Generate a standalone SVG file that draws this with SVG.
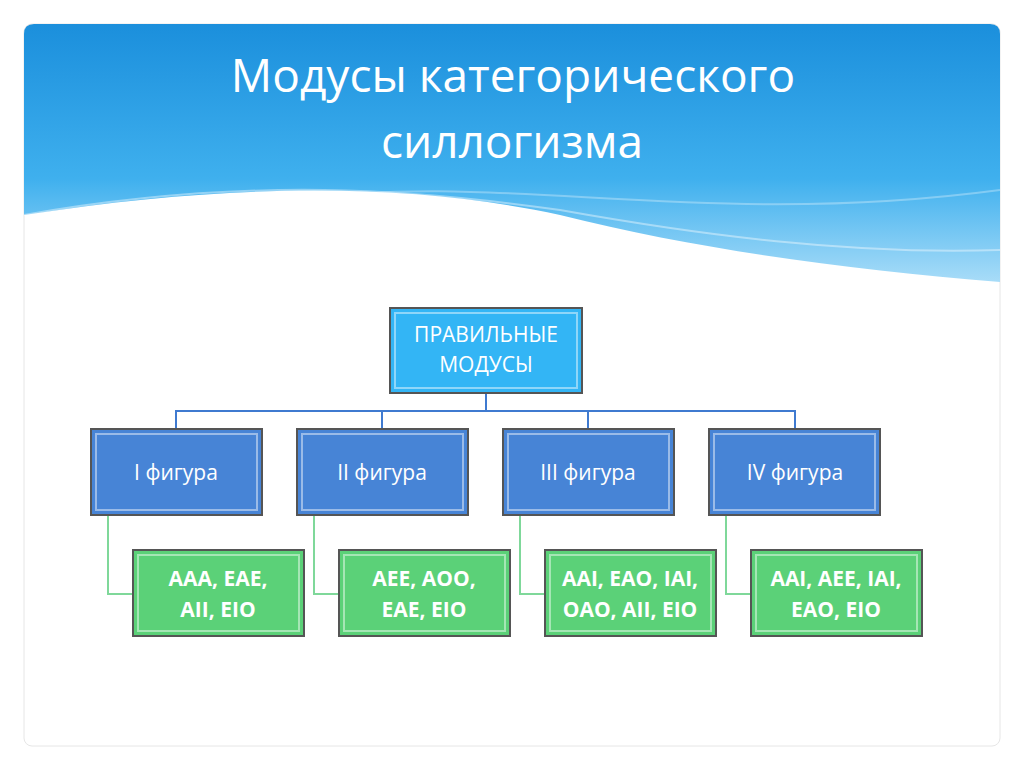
<svg xmlns="http://www.w3.org/2000/svg" width="1024" height="767" viewBox="0 0 1024 767">
<defs>
<linearGradient id="sky" x1="0" y1="0" x2="0" y2="1"><stop offset="0" stop-color="#1b8fdc"/><stop offset="0.6" stop-color="#3fb0ee"/><stop offset="1" stop-color="#a8dcf8"/></linearGradient>
<style>
.t{font-family:"Open Sans","Liberation Sans",sans-serif;fill:#fff;text-anchor:middle}
.blue{fill:#4784d6;stroke:#555;stroke-width:2}
.green{fill:#5bd178;stroke:#555;stroke-width:2}
.top{fill:#33b5f5;stroke:#555;stroke-width:2}
.in{fill:none;stroke:#fff;stroke-opacity:0.45;stroke-width:2}
.c{fill:none;stroke-width:2}
</style>
</defs>
<rect width="1024" height="767" fill="#fff"/>
<rect x="24" y="24" width="976" height="722" rx="8" fill="#fff" stroke="#e6e6e6"/>
<path d="M24 34 Q24 24 34 24 H990 Q1000 24 1000 34 V282 C850 270 700 250 560 215 C420 185 250 180 24 215 Z" fill="url(#sky)"/>
<path d="M24 215 C250 175 420 190 560 210 C700 235 850 255 1000 250" fill="none" stroke="#fff" stroke-opacity="0.4" stroke-width="2"/>
<path d="M300 200 C500 170 700 230 1000 190" fill="none" stroke="#fff" stroke-opacity="0.3" stroke-width="2"/>
<text class="t" x="513" y="92" font-size="46">Модусы категорического</text>
<text class="t" x="512" y="158" font-size="46">силлогизма</text>
<g id="connectors">
<path class="c" stroke="#3f7ad0" d="M486 393 V411 M176 429 V411 H795 V429 M382 411 V429 M588 411 V429"/>
<path class="c" stroke="#7fd89a" d="M108 515 V594 H133 M314 515 V594 H339 M520 515 V594 H545 M726 515 V594 H751"/>
</g>
<g id="root"><rect class="top" x="390" y="308" width="192" height="85"/><rect class="in" x="395" y="313" width="182" height="75"/>
<text class="t" x="486" y="342" font-size="21">ПРАВИЛЬНЫЕ</text><text class="t" x="486" y="372" font-size="21">МОДУСЫ</text></g>
<g id="f1"><rect class="blue" x="91" y="429" width="171" height="86"/><rect class="in" x="96" y="434" width="161" height="76"/><text class="t" x="176" y="480" font-size="21">I фигура</text></g>
<g id="f2"><rect class="blue" x="297" y="429" width="171" height="86"/><rect class="in" x="302" y="434" width="161" height="76"/><text class="t" x="382" y="480" font-size="21">II фигура</text></g>
<g id="f3"><rect class="blue" x="503" y="429" width="171" height="86"/><rect class="in" x="508" y="434" width="161" height="76"/><text class="t" x="588" y="480" font-size="21">III фигура</text></g>
<g id="f4"><rect class="blue" x="709" y="429" width="171" height="86"/><rect class="in" x="714" y="434" width="161" height="76"/><text class="t" x="795" y="480" font-size="21">IV фигура</text></g>
<g id="m1"><rect class="green" x="133" y="550" width="171" height="86"/><rect class="in" x="138" y="555" width="161" height="76"/><text class="t" x="218" y="586" font-size="21" font-weight="bold">AAA, EAE,</text><text class="t" x="218" y="617" font-size="21" font-weight="bold">AII, EIO</text></g>
<g id="m2"><rect class="green" x="339" y="550" width="171" height="86"/><rect class="in" x="344" y="555" width="161" height="76"/><text class="t" x="424" y="586" font-size="21" font-weight="bold">AEE, AOO,</text><text class="t" x="424" y="617" font-size="21" font-weight="bold">EAE, EIO</text></g>
<g id="m3"><rect class="green" x="545" y="550" width="171" height="86"/><rect class="in" x="550" y="555" width="161" height="76"/><text class="t" x="630" y="586" font-size="21" font-weight="bold">AAI, EAO, IAI,</text><text class="t" x="630" y="617" font-size="21" font-weight="bold">OAO, AII, EIO</text></g>
<g id="m4"><rect class="green" x="751" y="550" width="171" height="86"/><rect class="in" x="756" y="555" width="161" height="76"/><text class="t" x="836" y="586" font-size="21" font-weight="bold">AAI, AEE, IAI,</text><text class="t" x="836" y="617" font-size="21" font-weight="bold">EAO, EIO</text></g>
</svg>
